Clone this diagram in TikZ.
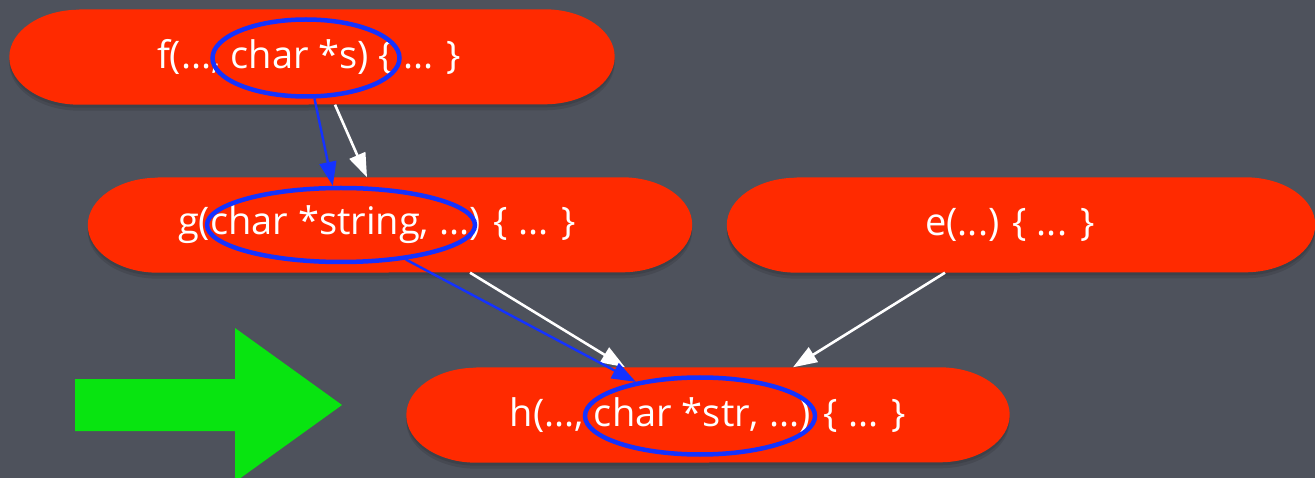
\documentclass[tikz,border=0pt]{standalone}
\usepackage{fontspec}
\setmainfont{Open Sans}
\usetikzlibrary{arrows.meta,shapes.geometric,backgrounds}
\definecolor{bgslate}{RGB}{78,82,92}
\definecolor{capred}{RGB}{255,42,0}
\definecolor{selblue}{RGB}{20,50,255}
\definecolor{biggreen}{RGB}{8,228,16}
\newcommand\capsulepath[1]{([xshift=70pt]#1.north west) -- ([xshift=-70pt]#1.north east) arc[start angle=90,end angle=-90,x radius=70pt,y radius=47.5pt] -- ([xshift=70pt]#1.south west) arc[start angle=270,end angle=90,x radius=70pt,y radius=47.5pt] -- cycle}
\tikzset{
  fn/.style={rectangle, minimum width=#1, minimum height=95pt, inner sep=0pt, text=white,
    font=\fontsize{38}{44}\selectfont},
  sel/.style 2 args={ellipse, draw=selblue, line width=4.5pt, inner sep=0pt,
    minimum width=#1, minimum height=#2},
  wline/.style={draw=white, line width=2.6pt, -{Triangle[length=24pt,width=17pt]}},
  bline/.style={draw=selblue, line width=2.4pt, -{Triangle[length=24pt,width=17pt]}},
}
\begin{document}
\begin{tikzpicture}[x=1pt,y=-1pt]
  \useasboundingbox (0,0) rectangle (1315,478);
  \clip (0,0) rectangle (1315,478);
  % function nodes
  \node[fn=605pt] (f) at (312,57) {\hspace*{-6pt}f(..., char *s) \{ ... \}};
  \node[fn=604pt] (g) at (390,225) {\hspace*{-26pt}g(char *string, ...) \{ ... \}};
  \node[fn=588pt] (e) at (1021,225) {\hspace*{-22pt}e(...) \{ ... \}};
  \node[fn=603pt] (h) at (708,415) {h(..., char *str, ...) \{ ... \}};
  \begin{pgfonlayer}{background}
    \fill[bgslate] (0,0) rectangle (1315,478);
    \foreach \n in {f,g,e,h}{
      \fill[black,opacity=0.10,transform canvas={yshift=-3pt}] \capsulepath{\n};
      \fill[black,opacity=0.10,transform canvas={yshift=-6pt}] \capsulepath{\n};
      \fill[capred] \capsulepath{\n};
    }
  \end{pgfonlayer}
  % selection ellipses
  \node[sel={187pt}{77pt}] (fe) at (306,58) {};
  \node[sel={268pt}{74pt}] (ge) at (341,225) {};
  \node[sel={230pt}{77pt}] (he) at (700,416) {};
  % connectors
  \draw[wline] ([xshift=23pt]f.south) -- ([xshift=-23pt]g.north);
  \draw[bline] (fe) -- (ge);
  \draw[wline] ([xshift=80pt]g.south) -- ([xshift=-83pt]h.north);
  \draw[bline] (ge) -- (he);
  \draw[wline] ([xshift=-76pt]e.south) -- ([xshift=85pt]h.north);
  % big green arrow
  \fill[biggreen] (75,379) -- (235,379) -- (235,328) -- (342,405) -- (235,482) -- (235,431) -- (75,431) -- cycle;
\end{tikzpicture}
\end{document}
